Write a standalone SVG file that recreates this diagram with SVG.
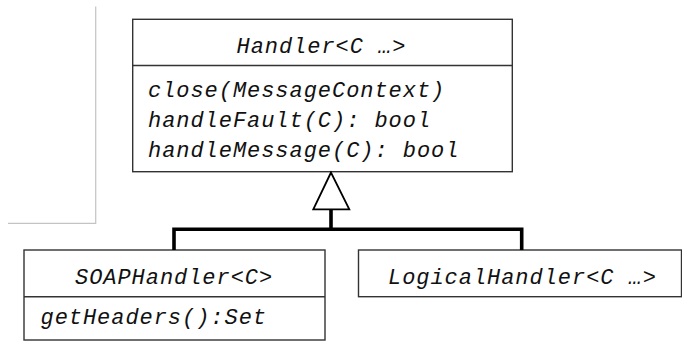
<svg xmlns="http://www.w3.org/2000/svg" width="682" height="349" viewBox="0 0 682 349">
<style>
.box{fill:#fff;stroke:#333;stroke-width:1.4}
.t{font-family:"Liberation Mono","DejaVu Sans Mono",monospace;font-style:italic;font-size:22px;letter-spacing:0.95px;fill:#111}
.conn{fill:none;stroke:#000;stroke-width:3.6}
</style>
<rect width="682" height="349" fill="#fff"/>
<path d="M95.7 6.5V223.3H8" fill="none" stroke="#c4c4c4" stroke-width="1.2"/>
<g id="handler">
<rect class="box" x="132.7" y="19.3" width="379.6" height="152.4"/>
<line class="box" x1="132.7" y1="65.5" x2="512.3" y2="65.5"/>
<text class="t" x="236.5" y="53.3">Handler&lt;C …&gt;</text>
<text class="t" x="148" y="96.7">close(MessageContext)</text>
<text class="t" x="148" y="126.7">handleFault(C): bool</text>
<text class="t" x="148" y="156.7">handleMessage(C): bool</text>
</g>
<g id="soaphandler">
<rect class="box" x="24" y="250" width="301" height="90"/>
<line class="box" x1="24" y1="296.7" x2="325" y2="296.7"/>
<text class="t" x="75" y="284.3">SOAPHandler&lt;C&gt;</text>
<text class="t" x="40.5" y="324">getHeaders():Set</text>
</g>
<g id="logicalhandler">
<rect class="box" x="358.5" y="250" width="323" height="46.7"/>
<text class="t" x="388" y="284.3">LogicalHandler&lt;C …&gt;</text>
</g>
<g id="connectors">
<path class="conn" d="M331 209V229.3M174 250V229.3H521.7V250"/>
<polygon points="331,172.5 313.3,209.3 349.3,209.3" fill="#fff" stroke="#000" stroke-width="1.8" stroke-linejoin="miter"/>
</g>
</svg>
